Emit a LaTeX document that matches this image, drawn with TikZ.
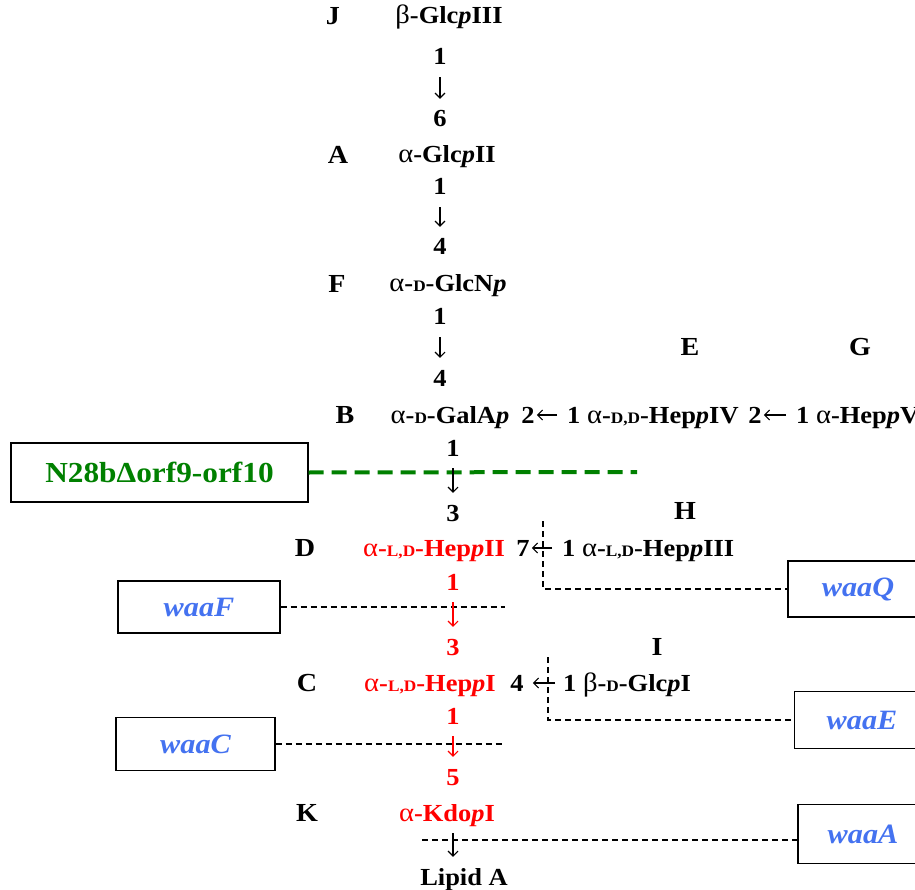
\documentclass[tikz,border=0pt]{standalone}
\usepackage{fontspec}
\setmainfont[FakeStretch=1.08]{Liberation Serif}
\usetikzlibrary{positioning, arrows.meta}
\definecolor{coreRed}{RGB}{255,0,0}
\definecolor{mutGreen}{RGB}{0,128,0}
\definecolor{geneBlue}{RGB}{68,114,240}
\newcommand{\galpha}{{\mdseries\fontsize{26.5pt}{28pt}\selectfont α}}
\newcommand{\gbeta}{{\mdseries\fontsize{26.5pt}{28pt}\selectfont β}}
\newcommand{\smallcap}[1]{{\fontsize{16pt}{16pt}\selectfont #1}}
\tikzstyle{sugar} = [inner sep=0pt, text height=16pt, text depth=0pt,
    font=\fontsize{24.5pt}{26pt}\selectfont\bfseries]
\tikzstyle{core} = [sugar, text=coreRed]
\tikzstyle{letter} = [inner sep=0pt, text height=17pt, text depth=0pt,
    font=\fontsize{26pt}{28pt}\selectfont\bfseries]
\tikzstyle{gene} = [draw, line width=1.2pt, inner sep=0pt,
    font=\fontsize{28pt}{30pt}\selectfont\bfseries\itshape, text=geneBlue]
\tikzstyle{link} = [->, line width=1.1pt, shorten <=12pt, shorten >=12pt]
\tikzstyle{hlink} = [->, line width=1.1pt, shorten <=10pt, shorten >=2pt]
\tikzstyle{genelink} = [line width=1.5pt, dash pattern=on 6pt off 4pt]
\tikzstyle{mutlink} = [draw=mutGreen, line width=4pt, dash pattern=on 15pt off 8pt]

\begin{document}
\begin{tikzpicture}[x=1pt, y=-1pt, >={Straight Barb[length=5pt, width=10pt]}]
        \useasboundingbox (0,0) rectangle (915,890);

        % letters
        \node[letter] (lJ) at (333,16) {J};
        \node[letter] (lA) at (338,155) {A};
        \node[letter] (lF) at (337,284) {F};
        \node[letter] (lE) at (690,347) {E};
        \node[letter] (lG) at (860,347) {G};
        \node[letter] (lB) at (345,415) {B};
        \node[letter] (lH) at (685,511) {H};
        \node[letter] (lD) at (305,548) {D};
        \node[letter] (lI) at (657,647) {I};
        \node[letter] (lC) at (307,683) {C};
        \node[letter] (lK) at (307,813) {K};

        % outer chain
        \node[sugar] (glcIII) at (449,16) {\gbeta-Glc\textit{p}III};
        \node[sugar] (oneA) at (440,57) {1};
        \node[sugar] (sixA) at (440,119) {6};
        \node[sugar] (glcII) at (447,155) {\galpha-Glc\textit{p}II};
        \node[sugar] (oneB) at (440,187) {1};
        \node[sugar] (fourA) at (440,247) {4};
        \node[sugar] (glcN) at (448,284) {\galpha-\smallcap{D}-GlcN\textit{p}};
        \node[sugar] (oneC) at (440,317) {1};
        \node[sugar] (fourB) at (440,378) {4};
        \node[sugar] (galA) at (450,415) {\galpha-\smallcap{D}-GalA\textit{p}};
        \node[sugar] (galPos) at (528,415) {2};
        \node[sugar, anchor=west] (hepIV) at (567,415)
            {1 \galpha-\smallcap{D,D}-Hep\textit{p}IV};
        \node[sugar] (hepIVpos) at (755,415) {2};
        \node[sugar, anchor=west] (hepV) at (796,415) {1 \galpha-Hep\textit{p}V};
        \node[sugar] (oneD) at (453,448) {1};
        \node[sugar] (threeA) at (453,513) {3};

        % inner core
        \node[core] (hepII) at (434,548) {\galpha-\smallcap{L,D}-Hep\textit{p}II};
        \node[sugar] (hepIIpos) at (523,548) {7};
        \node[sugar, anchor=west] (hepIII) at (562,548)
            {1 \galpha-\smallcap{L,D}-Hep\textit{p}III};
        \node[core] (oneE) at (453,582) {1};
        \node[core] (threeB) at (453,647) {3};
        \node[core] (hepI) at (430,683) {\galpha-\smallcap{L,D}-Hep\textit{p}I};
        \node[sugar] (hepIpos) at (517,683) {4};
        \node[sugar, anchor=west] (glcI) at (563,683)
            {1 \gbeta-\smallcap{D}-Glc\textit{p}I};
        \node[core] (oneF) at (453,716) {1};
        \node[core] (fiveA) at (453,777) {5};
        \node[core] (kdo) at (447,813) {\galpha-Kdo\textit{p}I};
        \node[sugar] (lipid) at (464,877) {Lipid A};

        % genes
        \node[draw, line width=1.2pt, minimum width=297pt, minimum height=59pt,
            font=\fontsize{29pt}{31pt}\selectfont\bfseries, text=mutGreen
        ] (n28b) at (159.5,472.5) {N28bΔorf9-orf10};
        \node[gene, minimum width=162pt, minimum height=52pt] (waaF) at (199,607) {waaF};
        \node[gene, minimum width=159pt, minimum height=53pt] (waaC) at (195.5,744) {waaC};
        \node[gene, minimum width=140pt, minimum height=56pt] (waaQ) at (858,589) {waaQ};
        \node[gene, minimum width=135pt, minimum height=57pt] (waaE) at (862,720) {waaE};
        \node[gene, minimum width=130pt, minimum height=59pt] (waaA) at (863,834) {waaA};

        \coordinate (mutEnd) at (637,472);
        \coordinate (qTop) at (543,521);
        \coordinate (eTop) at (548,657);
        \coordinate (fEnd) at (505,607);
        \coordinate (cEnd) at (502,744);
        \coordinate (aStart) at (422,840);

        \draw[mutlink] (n28b.east) -- (mutEnd);
        \draw[genelink] (qTop) |- (waaQ.west);
        \draw[genelink] (eTop) |- (waaE.west);
        \draw[genelink] (waaF.east) -- (fEnd);
        \draw[genelink] (waaC.east) -- (cEnd);
        \draw[genelink] (aStart) -- (aStart -| waaA.west);

        \draw[link] (oneA) -- (sixA);
        \draw[link] (oneB) -- (fourA);
        \draw[link] (oneC) -- (fourB);
        \draw[link] (oneD) -- (threeA);
        \draw[link, coreRed] (oneE) -- (threeB);
        \draw[link, coreRed] (oneF) -- (fiveA);
        \draw[link] (kdo.south -| fiveA) -- (lipid.north -| fiveA);
        \draw[hlink] (hepIV.west) -- (galPos.east);
        \draw[hlink] (hepV.west) -- (hepIVpos.east);
        \draw[hlink] (hepIII.west) -- (hepIIpos.east);
        \draw[hlink, shorten <=8pt, shorten >=9pt] (glcI.west) -- (hepIpos.east);
    \end{tikzpicture}
\end{document}
